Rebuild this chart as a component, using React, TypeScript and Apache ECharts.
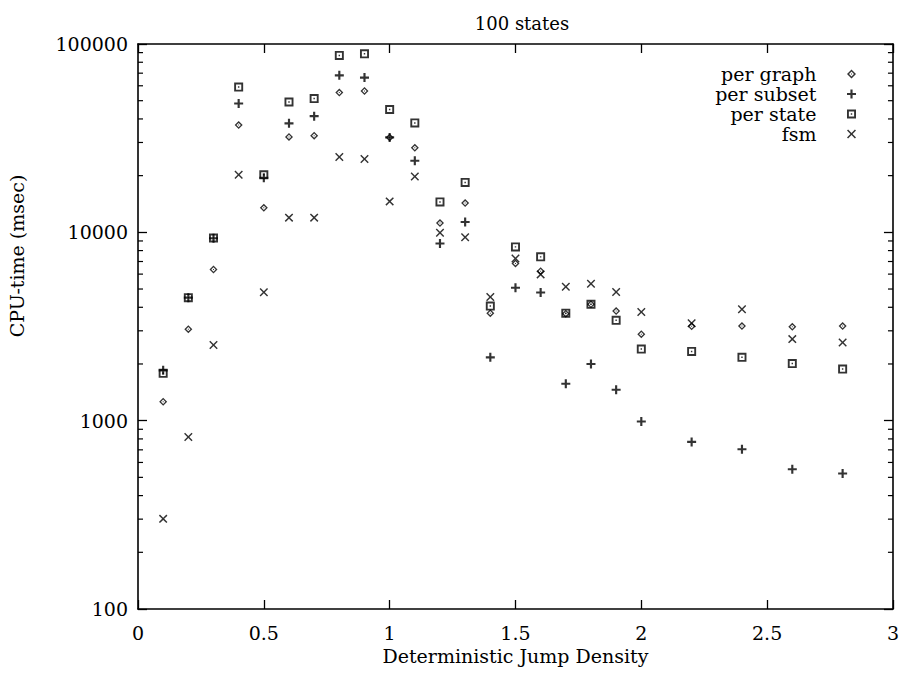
import React, { useEffect, useRef } from "react";
import * as echarts from "echarts";

const xValues = [0.1, 0.2, 0.3, 0.4, 0.5, 0.6, 0.7, 0.8, 0.9, 1.0, 1.1, 1.2, 1.3, 1.4, 1.5, 1.6, 1.7, 1.8, 1.9, 2.0, 2.2, 2.4, 2.6, 2.8];
const perGraph = [1260, 3060, 6350, 37100, 13500, 32100, 32600, 55200, 56300, 31900, 28100, 11200, 14300, 3720, 6840, 6220, 3700, 4150, 3820, 2880, 3170, 3180, 3150, 3180];
const perSubset = [1850, 4500, 9300, 48300, 19500, 37900, 41400, 68200, 66300, 31900, 24000, 8720, 11350, 2170, 5080, 4790, 1570, 2000, 1460, 990, 771, 705, 552, 524];
const perState = [1785, 4500, 9330, 59100, 20200, 49200, 51300, 86900, 88700, 44900, 38100, 14500, 18400, 4060, 8370, 7410, 3720, 4150, 3410, 2400, 2330, 2170, 2010, 1880];
const fsm = [301, 818, 2520, 20200, 4810, 11970, 11970, 25100, 24500, 14600, 19800, 9940, 9420, 4530, 7270, 5980, 5140, 5330, 4820, 3780, 3290, 3900, 2710, 2600];

const yDecades = [100, 1000, 10000];
const minorMultipliers = [2, 3, 4, 5, 6, 7, 8, 9];

const SYM_DIAMOND = "path://M5,0L10,5L5,10L0,5ZM5,2.3L2.3,5L5,7.7L7.7,5ZM4.4,4.4H5.6V5.6H4.4Z";
const SYM_PLUS = "path://M3.8,0H6.2V3.8H10V6.2H6.2V10H3.8V6.2H0V3.8H3.8Z";
const SYM_SQUARE = "path://M0,0H10V10H0ZM2.1,2.1V7.9H7.9V2.1ZM4.2,4.2H5.8V5.8H4.2Z";
const SYM_CROSS = "path://M0,1.2L1.2,0L5,3.8L8.8,0L10,1.2L6.2,5L10,8.8L8.8,10L5,6.2L1.2,10L0,8.8L3.8,5Z";

const FONT = "DejaVu Serif";

export default function App() {
  const ref = useRef<HTMLDivElement>(null);
  useEffect(() => {
    if (!ref.current) return;
    const chart = echarts.init(ref.current, null, { renderer: "svg" });
    const minorTicks: number[][] = [];
    yDecades.forEach((d) => minorMultipliers.forEach((m) => minorTicks.push([0, d * m])));

    const mk = (name: string, vals: number[], symbol: string, size: number) => ({
      name,
      type: "scatter",
      symbol,
      symbolSize: size,
      itemStyle: { color: "#000" },
      data: xValues.map((x, i) => [x, vals[i]]),
      z: 3,
    });

    const axisLine = { show: true, onZero: false, lineStyle: { color: "#000", width: 1.6 } };
    const axisTick = { show: true, inside: true, length: 9, lineStyle: { color: "#000", width: 1.3 } };

    chart.setOption({
      animation: false,
      backgroundColor: "#fff",
      title: {
        text: "100 states",
        left: 517,
        top: 9,
        textAlign: "center",
        textStyle: { fontFamily: FONT, fontSize: 18, fontWeight: "normal", color: "#000" },
      },
      grid: { left: 138, right: 9, top: 44, bottom: 65 },
      legend: {
        orient: "vertical",
        right: 41,
        top: 59,
        align: "right",
        itemGap: 0,
        itemWidth: 10,
        itemHeight: 9,
        textStyle: { fontFamily: FONT, fontSize: 19, color: "#000", lineHeight: 20, padding: [0, 25, 0, 0] },
        data: [
          { name: "per graph", icon: SYM_DIAMOND },
          { name: "per subset", icon: SYM_PLUS },
          { name: "per state", icon: SYM_SQUARE },
          { name: "fsm", icon: SYM_CROSS },
        ],
      },
      xAxis: [
        {
          type: "value",
          min: 0,
          max: 3,
          interval: 0.5,
          position: "bottom",
          name: "Deterministic Jump Density",
          nameLocation: "middle",
          nameGap: 36,
          nameTextStyle: { fontFamily: FONT, fontSize: 19, color: "#000" },
          axisLine,
          axisTick,
          axisLabel: { fontFamily: FONT, fontSize: 19, color: "#000", margin: 14 },
          splitLine: { show: false },
        },
        {
          type: "value",
          min: 0,
          max: 3,
          interval: 0.5,
          position: "top",
          axisLine,
          axisTick,
          axisLabel: { show: false },
          splitLine: { show: false },
        },
      ],
      yAxis: [
        {
          type: "log",
          logBase: 10,
          min: 100,
          max: 100000,
          position: "left",
          axisLine,
          axisTick,
          axisLabel: {
            fontFamily: FONT,
            fontSize: 19,
            color: "#000",
            margin: 10,
            formatter: (v: number) => String(Math.round(v)),
          },
          splitLine: { show: false },
        },
        {
          type: "log",
          logBase: 10,
          min: 100,
          max: 100000,
          position: "right",
          axisLine,
          axisTick,
          axisLabel: { show: false },
          splitLine: { show: false },
        },
      ],
      graphic: [
        {
          type: "text",
          x: 17,
          y: 256,
          rotation: Math.PI / 2,
          style: {
            text: "CPU-time (msec)",
            fontFamily: FONT,
            fontSize: 19,
            fill: "#000",
            align: "center",
            verticalAlign: "middle",
          },
        },
      ],
      series: [
        {
          name: "minor",
          type: "custom",
          silent: true,
          clip: false,
          data: minorTicks,
          renderItem: (params: any, api: any) => {
            const v = api.value(1);
            const l = api.coord([0, v]);
            const r = api.coord([3, v]);
            const st = { stroke: "#000", lineWidth: 1.2 };
            return {
              type: "group",
              children: [
                { type: "line", shape: { x1: l[0], y1: l[1], x2: l[0] + 5, y2: l[1] }, style: st },
                { type: "line", shape: { x1: r[0], y1: r[1], x2: r[0] - 5, y2: r[1] }, style: st },
              ],
            };
          },
          z: 1,
        },
        mk("per graph", perGraph, SYM_DIAMOND, 8),
        mk("per subset", perSubset, SYM_PLUS, 9),
        mk("per state", perState, SYM_SQUARE, 9),
        mk("fsm", fsm, SYM_CROSS, 8.5),
      ],
    });
    return () => chart.dispose();
  }, []);
  return <div ref={ref} style={{ position: "fixed", left: 0, top: 0, width: 902, height: 674 }} />;
}
